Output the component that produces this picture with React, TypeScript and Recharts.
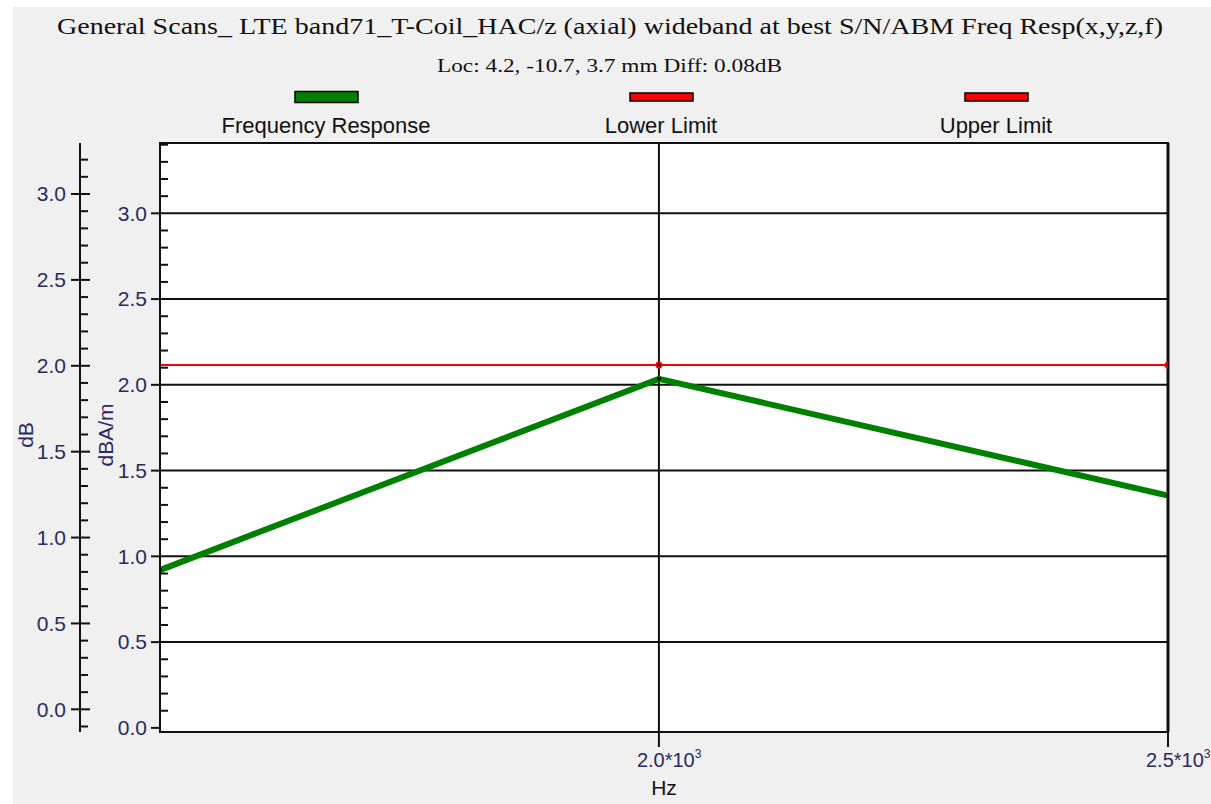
import {
  CartesianGrid,
  Line,
  LineChart,
  ReferenceArea,
  ReferenceLine,
  XAxis,
  YAxis
} from "recharts";

const freqs = [1510, 2000, 2500];
const response = [0.92, 2.035, 1.355];
const upperLimit = [2.116, 2.116, 2.116];

const xTicks = [2000, 2500];
const innerTicks = [
  0, 0.1, 0.2, 0.3, 0.4, 0.5, 0.6, 0.7, 0.8, 0.9, 1.0, 1.1, 1.2, 1.3, 1.4, 1.5, 1.6, 1.7,
  1.8, 1.9, 2.0, 2.1, 2.2, 2.3, 2.4, 2.5, 2.6, 2.7, 2.8, 2.9, 3.0, 3.1, 3.2, 3.3, 3.4
];
const outerTicks = [
  -0.1, 0, 0.1, 0.2, 0.3, 0.4, 0.5, 0.6, 0.7, 0.8, 0.9, 1.0, 1.1, 1.2, 1.3, 1.4, 1.5, 1.6,
  1.7, 1.8, 1.9, 2.0, 2.1, 2.2, 2.3, 2.4, 2.5, 2.6, 2.7, 2.8, 2.9, 3.0, 3.1, 3.2
];
const gridTicks = [0.5, 1.0, 1.5, 2.0, 2.5, 3.0];

const legendItems = [
  { name: "Frequency Response", color: "#008000" },
  { name: "Lower Limit", color: "#ff0000" },
  { name: "Upper Limit", color: "#ff0000" }
];

const title =
  "General Scans_ LTE band71_T-Coil_HAC/z (axial) wideband at best S/N/ABM Freq Resp(x,y,z,f)";
const subtitle = "Loc: 4.2, -10.7, 3.7 mm Diff: 0.08dB";

const data = freqs.map((freq, i) => ({ freq, response: response[i], upper: upperLimit[i] }));

const sans = "'Liberation Sans', Arial, sans-serif";
const serif = "'Liberation Serif', 'Times New Roman', serif";
const ink = "#111";
const labelInk = "#2a2a5e";

// majors every 0.5 get a label, the rest are short inward ticks
const isMajor = (v: number) => Math.abs(v * 2 - Math.round(v * 2)) < 1e-6;

function InnerTick(props: any) {
  const { x, y, payload } = props;
  const v = payload.value as number;
  if (!isMajor(v)) {
    return <line x1={x} y1={y} x2={x + 8} y2={y} stroke={ink} strokeWidth={2} />;
  }
  return (
    <g>
      <line x1={x - 9} y1={y} x2={x} y2={y} stroke={ink} strokeWidth={2} />
      <text x={x - 13} y={y} dy="0.35em" textAnchor="end" fontFamily={sans} fontSize={21} fill={labelInk}>
        {v.toFixed(1)}
      </text>
    </g>
  );
}

function OuterTick(props: any) {
  const { x, y, payload } = props;
  const v = payload.value as number;
  if (!isMajor(v)) {
    return <line x1={x} y1={y} x2={x + 8} y2={y} stroke={ink} strokeWidth={2} />;
  }
  return (
    <g>
      <line x1={x - 9} y1={y} x2={x + 10} y2={y} stroke={ink} strokeWidth={2} />
      <text x={x - 14} y={y} dy="0.35em" textAnchor="end" fontFamily={sans} fontSize={21} fill={labelInk}>
        {v.toFixed(1)}
      </text>
    </g>
  );
}

function FreqTick(props: any) {
  const { x, y, payload } = props;
  const v = payload.value as number;
  return (
    <g>
      <line x1={x} y1={y} x2={x} y2={y + 15} stroke={ink} strokeWidth={2} />
      <text x={x - 22} y={y + 35} fontFamily={sans} fontSize={20} fill={labelInk}>
        {`${(v / 1000).toFixed(1)}*10`}
        <tspan fontSize={12} dy={-9}>
          3
        </tspan>
      </text>
    </g>
  );
}

function LimitDot(props: any) {
  const { cx, cy, index } = props;
  if (index === 0) return <g key={`u-${index}`} />;
  return (
    <g key={`u-${index}`}>
      <circle cx={cx} cy={cy} r={3.5} fill="#ff0000" />
      <circle cx={cx} cy={cy} r={1.5} fill="#000" />
    </g>
  );
}

function ResponseDot(props: any) {
  const { cx, cy, index } = props;
  return <circle key={`r-${index}`} cx={cx} cy={cy} r={2} fill="#000" />;
}

export default function App() {
  return (
    <div style={{ position: "absolute", left: 0, top: 0, width: 1211, height: 804, background: "#fff" }}>
      <div style={{ position: "absolute", left: 13, top: 7, right: 0, bottom: 0, background: "#f0f0f0" }} />
      <div style={{ position: "absolute", left: 0, top: 0 }}>
        <LineChart width={1211} height={804} data={data} margin={{ top: 143, right: 43, bottom: 0, left: 0 }}>
          <CartesianGrid yAxisId="zgrid" fill="#ffffff" stroke={ink} strokeWidth={2} />
          <XAxis
            dataKey="freq"
            type="number"
            domain={[1510, 2500]}
            allowDataOverflow
            ticks={xTicks}
            interval={0}
            height={72}
            tickSize={0}
            tickMargin={0}
            tickLine={false}
            axisLine={{ stroke: ink, strokeWidth: 2 }}
            tick={<FreqTick />}
            label={{ value: "Hz", position: "insideBottom", offset: 9, fontFamily: sans, fontSize: 21, fill: ink }}
          />
          {/* axis ids sort alphabetically: "inner" sits next to the plot */}
          <YAxis
            yAxisId="inner"
            type="number"
            domain={[-0.024, 3.41]}
            allowDataOverflow
            ticks={innerTicks}
            interval={0}
            width={80}
            tickSize={0}
            tickMargin={0}
            tickLine={false}
            axisLine={{ stroke: ink, strokeWidth: 2 }}
            tick={<InnerTick />}
          />
          <YAxis
            yAxisId="outer"
            type="number"
            domain={[-0.132, 3.297]}
            allowDataOverflow
            ticks={outerTicks}
            interval={0}
            width={80}
            tickSize={0}
            tickMargin={0}
            tickLine={false}
            axisLine={{ stroke: ink, strokeWidth: 2 }}
            tick={<OuterTick />}
          />
          <YAxis yAxisId="zgrid" type="number" domain={[-0.024, 3.41]} allowDataOverflow ticks={gridTicks} hide />
          <ReferenceArea
            yAxisId="inner"
            x1={1510}
            x2={2500}
            y1={-0.024}
            y2={3.41}
            fill="none"
            stroke={ink}
            strokeWidth={2}
            ifOverflow="visible"
          />
          <ReferenceLine yAxisId="inner" x={2500} stroke={ink} strokeWidth={3} ifOverflow="visible" />
          <Line
            yAxisId="inner"
            type="linear"
            dataKey="response"
            stroke="#008000"
            strokeWidth={6}
            dot={<ResponseDot />}
            activeDot={false}
            isAnimationActive={false}
          />
          <Line
            yAxisId="inner"
            type="linear"
            dataKey="upper"
            stroke="#ff0000"
            strokeWidth={2}
            dot={<LimitDot />}
            activeDot={false}
            isAnimationActive={false}
          />
        </LineChart>
      </div>
      <svg width={1211} height={804} style={{ position: "absolute", left: 0, top: 0, pointerEvents: "none" }}>
        <text x={57} y={34} textLength={1106} lengthAdjust="spacingAndGlyphs" fontFamily={serif} fontSize={24} fill={ink}>
          {title}
        </text>
        <text x={437} y={72} textLength={345} lengthAdjust="spacingAndGlyphs" fontFamily={serif} fontSize={18} fill={ink}>
          {subtitle}
        </text>
        {legendItems.map((item, i) => {
          const cx = 326 + i * 335;
          const h = i === 0 ? 11 : 8;
          return (
            <g key={item.name}>
              <rect x={cx - 31} y={97 - h / 2} width={63} height={h} fill={item.color} stroke="#000" strokeWidth={1.5} />
              <text x={cx} y={133} textAnchor="middle" fontFamily={sans} fontSize={22} fill={ink}>
                {item.name}
              </text>
            </g>
          );
        })}
        <text
          transform="translate(33, 435) rotate(-90)"
          textAnchor="middle"
          fontFamily={sans}
          fontSize={21}
          fill={labelInk}
        >
          dB
        </text>
        <text
          transform="translate(113, 435) rotate(-90)"
          textAnchor="middle"
          fontFamily={sans}
          fontSize={21}
          fill={labelInk}
        >
          dBA/m
        </text>
      </svg>
    </div>
  );
}
